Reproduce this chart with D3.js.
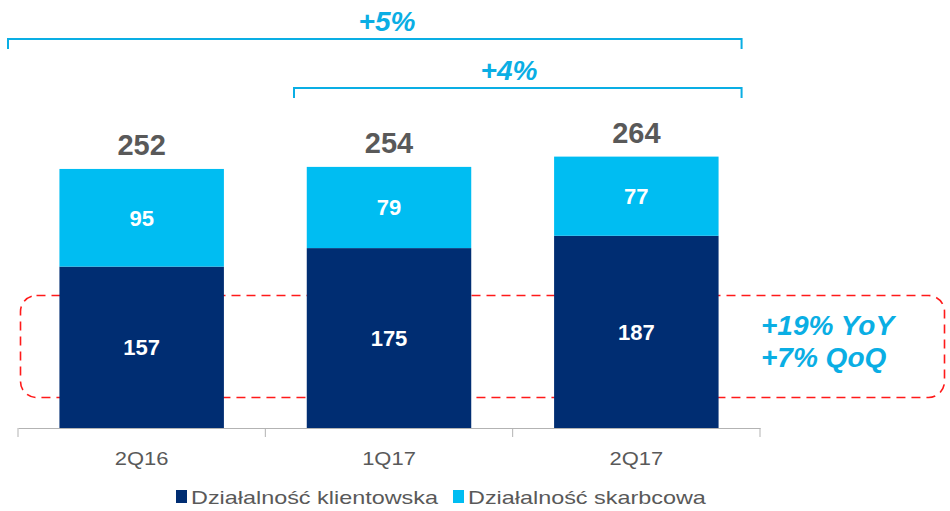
<!DOCTYPE html>
<html>
<head>
<meta charset="utf-8">
<script src="https://cdn.jsdelivr.net/npm/d3@7"></script>
<style>
body { margin: 0; background: #fff; }
svg { display: block; font-family: Arial, "Liberation Sans", sans-serif; }
</style>
</head>
<body>
<div id="chart"></div>
<script>
// data
var categories = ["2Q16", "1Q17", "2Q17"];
var klientowska = [157, 175, 187];
var skarbcowa = [95, 79, 77];
var seriesNames = ["Działalność klientowska", "Działalność skarbcowa"];
var changes = [
    { label: "+5%", from: 0, to: 2 },
    { label: "+4%", from: 1, to: 2 }
];
var growthLines = ["+19% YoY", "+7% QoQ"];

var navy = "#002d72";
var cyan = "#00bdf2";
var accent = "#0aaee4";
var grey = "#595959";

var width = 950, height = 511;

var svg = d3.select("#chart").append("svg")
    .attr("width", width)
    .attr("height", height);

var x = d3.scaleBand()
    .domain(categories)
    .range([18, 760])
    .paddingInner(0.335)
    .paddingOuter(0.1675);

var y = d3.scaleLinear()
    .domain([0, 300])
    .range([428, 428 - 300 * 1.028]);

var rows = categories.map(function(c, i) {
    return { cat: c, k: klientowska[i], s: skarbcowa[i], total: klientowska[i] + skarbcowa[i] };
});

var stack = d3.stack().keys(["k", "s"]);
var layers = stack(rows);
var colors = [navy, cyan];

// dashed highlight box behind the client bars
svg.append("rect")
    .attr("x", 20.5).attr("y", 295.5)
    .attr("width", 924).attr("height", 102)
    .attr("rx", 16).attr("ry", 16)
    .attr("fill", "none")
    .attr("stroke", "#ff1a1a")
    .attr("stroke-width", 1.6)
    .attr("stroke-dasharray", "9,6");

svg.selectAll("g.layer")
    .data(layers)
  .enter().append("g")
    .attr("class", "layer")
    .attr("fill", function(d, i) { return colors[i]; })
  .selectAll("rect")
    .data(function(d) { return d; })
  .enter().append("rect")
    .attr("x", function(d) { return x(d.data.cat); })
    .attr("y", function(d) { return y(d[1]); })
    .attr("width", x.bandwidth())
    .attr("height", function(d) { return y(d[0]) - y(d[1]); });

// segment labels
layers.forEach(function(layer) {
    svg.selectAll(null)
        .data(layer)
      .enter().append("text")
        .attr("x", function(d) { return x(d.data.cat) + x.bandwidth() / 2; })
        .attr("y", function(d) { return (y(d[0]) + y(d[1])) / 2 + 8; })
        .attr("text-anchor", "middle")
        .attr("fill", "#fff")
        .attr("font-weight", "bold")
        .attr("font-size", 22)
        .text(function(d) { return d[1] - d[0]; });
});

// totals
svg.selectAll("text.total")
    .data(rows)
  .enter().append("text")
    .attr("class", "total")
    .attr("x", function(d) { return x(d.cat) + x.bandwidth() / 2; })
    .attr("y", function(d) { return y(d.total) - 14; })
    .attr("text-anchor", "middle")
    .attr("fill", grey)
    .attr("font-weight", "bold")
    .attr("font-size", 29)
    .text(function(d) { return d.total; });

// axis
var axis = svg.append("g")
    .attr("transform", "translate(0,428)")
    .call(d3.axisBottom(x).tickSize(0).tickPadding(20));
axis.select(".domain").attr("stroke", "#b3b3b3");
axis.selectAll(".tick text")
    .attr("fill", grey)
    .attr("font-size", 18)
    .attr("font-family", "Arial, 'Liberation Sans', sans-serif")
    .attr("transform", "scale(1.22,1)")
    .attr("dy", "0.95em");
var step = x.step();
var edges = d3.range(categories.length + 1).map(function(i) {
    return x(categories[0]) - x.paddingInner() * step / 2 + i * step;
});
axis.selectAll("line.sep")
    .data(edges)
  .enter().append("line")
    .attr("class", "sep")
    .attr("x1", function(d) { return d; })
    .attr("x2", function(d) { return d; })
    .attr("y1", 0).attr("y2", 9)
    .attr("stroke", "#b3b3b3");

// change brackets
var bracketY = [39, 88];
var bracketLeft = [8, 294];
changes.forEach(function(c, i) {
    var x0 = bracketLeft[i];
    var x1 = x(categories[c.to]) + x.bandwidth() + 23;
    var yy = bracketY[i];
    svg.append("path")
        .attr("d", "M" + x0 + "," + (yy + 10) + "V" + yy + "H" + x1 + "V" + (yy + 10))
        .attr("fill", "none")
        .attr("stroke", accent)
        .attr("stroke-width", 2);
    svg.append("text")
        .attr("x", i === 0 ? 387 : 509)
        .attr("y", yy - 8)
        .attr("text-anchor", "middle")
        .attr("fill", accent)
        .attr("font-weight", "bold")
        .attr("font-style", "italic")
        .attr("font-size", 28)
        .text(c.label);
});

// growth note
svg.selectAll("text.growth")
    .data(growthLines)
  .enter().append("text")
    .attr("class", "growth")
    .attr("x", 761)
    .attr("y", function(d, i) { return 335 + i * 32; })
    .attr("fill", accent)
    .attr("font-weight", "bold")
    .attr("font-style", "italic")
    .attr("font-size", 28)
    .text(function(d) { return d; });

// legend
var legendX = [176, 453];
var legend = svg.selectAll("g.legend")
    .data(seriesNames)
  .enter().append("g")
    .attr("class", "legend")
    .attr("transform", function(d, i) { return "translate(" + legendX[i] + ",490)"; });
legend.append("rect")
    .attr("width", 11).attr("height", 13)
    .attr("fill", function(d, i) { return colors[i]; });
legend.append("text")
    .attr("transform", "translate(15,14) scale(1.3,1)")
    .attr("fill", grey)
    .attr("font-size", 18)
    .text(function(d) { return d; });
</script>
</body>
</html>
